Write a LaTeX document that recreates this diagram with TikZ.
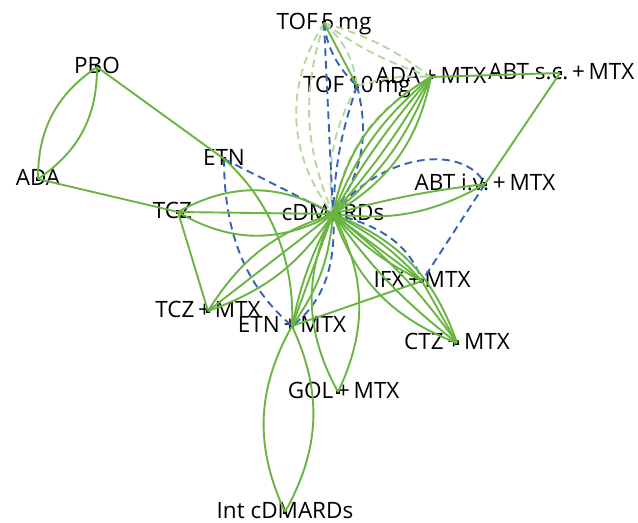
\documentclass[tikz,border=0pt]{standalone}
\usepackage{fontspec}
\setmainfont{Open Sans}
\definecolor{lineGreen}{RGB}{106,180,66}
\definecolor{dashBlue}{RGB}{52,98,180}
\definecolor{lightGreen}{RGB}{182,216,160}
\begin{document}
\begin{tikzpicture}[x=0.025cm,y=-0.025cm,
  gline/.style={draw=lineGreen,line width=1.35pt},
  bdash/.style={draw=dashBlue,line width=1.35pt,dash pattern=on 5.5pt off 3.5pt},
  ldash/.style={draw=lightGreen,line width=1.35pt,dash pattern=on 5.5pt off 3.5pt},
  dotnode/.style={fill=black,inner sep=0pt,minimum size=2.4pt,rectangle},
  lab/.style={anchor=mid,inner sep=0pt,yshift=-2pt,font=\fontsize{16}{19}\selectfont}]
\useasboundingbox (0,0) rectangle (638,523);
% node markers
\node[dotnode] (tof5) at (324,23) {};
\node[dotnode] (tof10) at (357,86) {};
\node[dotnode] (adam) at (431,77) {};
\node[dotnode] (abtsc) at (560,73) {};
\node[dotnode] (pbo) at (97,67) {};
\node[dotnode] (ada) at (38,179) {};
\node[dotnode] (etn) at (224,159) {};
\node[dotnode] (tcz) at (178,212) {};
\node[dotnode] (cd) at (333,214) {};
\node[dotnode] (abtiv) at (485,184) {};
\node[dotnode] (ifx) at (422,281) {};
\node[dotnode] (ctz) at (457,343) {};
\node[dotnode] (tczm) at (208,311) {};
\node[dotnode] (etnm) at (292,326) {};
\node[dotnode] (gol) at (338,392) {};
\node[dotnode] (intc) at (285,512) {};
% labels
\node[lab] (ltof5) at (tof5) {TOF\,5\,mg};
\node[lab] (ltof10) at (tof10) {TOF\,10\,mg};
\node[lab] (ladam) at (adam) {ADA\,+\,MTX};
\node[lab,xshift=1pt] (labtsc) at (abtsc) {ABT s.c.\,+\,MTX};
\node[lab] (lpbo) at (pbo) {PBO};
\node[lab] (lada) at (ada) {ADA};
\node[lab] (letn) at (etn) {ETN};
\node[lab,xshift=-4pt] (ltcz) at (tcz) {TCZ};
\node[lab] (lcd) at (cd) {cDMARDs};
\node[lab] (labtiv) at (abtiv) {ABT i.v.\,+\,MTX};
\node[lab] (lifx) at (ifx) {IFX\,+\,MTX};
\node[lab] (lctz) at (ctz) {CTZ\,+\,MTX};
\node[lab] (ltczm) at (tczm) {TCZ\,+\,MTX};
\node[lab] (letnm) at (etnm) {ETN\,+\,MTX};
\node[lab,xshift=4pt] (lgol) at (gol) {GOL\,+\,MTX};
\node[lab] (lintc) at (intc) {Int cDMARDs};
% light green dashed
\draw[ldash] (tof5.center) to[bend right=35] (cd.center);
\draw[ldash] (tof5.center) to[bend right=20] (cd.center);
\draw[ldash] (tof5.center) to[bend left=20] (tof10.center);
\draw[ldash] (tof5.center) to[bend left=10] (adam.center);
\draw[ldash] (tof5.center) to[bend right=8] (adam.center);
\draw[ldash] (tof10.center) to[bend left=10] (adam.center);
\draw[ldash] (tof10.center) to[bend right=18] (cd.center);
\draw[ldash] (adam.center) to[bend right=25] (cd.center);
% blue dashed
\draw[bdash] (tof5.center) -- (cd.center);
\draw[bdash] (tof5.center) .. controls (327,50) and (340,70) .. (tof10.center);
\draw[bdash] (tof10.center) to[bend right=8] (cd.center);
\draw[bdash] (tof10.center) to[bend left=25] (cd.center);
\draw[bdash] (etn.center) -- (cd.center);
\draw[bdash] (etn.center) .. controls (224,240) and (250,290) .. (etnm.center);
\draw[bdash] (cd.center) .. controls (337,270) and (320,305) .. (etnm.center);
\draw[bdash] (cd.center) .. controls (385,150) and (465,145) .. (abtiv.center);
\draw[bdash] (cd.center) .. controls (380,225) and (410,245) .. (ifx.center);
\draw[bdash] (abtiv.center) -- (ifx.center);
% green solid
\draw[gline] (pbo.center) to[bend left=28] (ada.center);
\draw[gline] (pbo.center) to[bend right=28] (ada.center);
\draw[gline] (pbo.center) -- (etn.center);
\draw[gline] (ada.center) -- (tcz.center);
\draw[gline] (tcz.center) -- (cd.center);
\draw[gline] (tcz.center) to[bend left=30] (cd.center);
\draw[gline] (tcz.center) to[bend right=30] (cd.center);
\draw[gline] (tcz.center) -- (tczm.center);
\draw[gline] (tczm.center) to[bend left=20] (cd.center);
\draw[gline] (tczm.center) -- (cd.center);
\draw[gline] (tczm.center) to[bend right=18] (cd.center);
\draw[gline] (etn.center) .. controls (270,200) and (295,260) .. (etnm.center);
\draw[gline] (etnm.center) to[bend left=8] (cd.center);
\draw[gline] (etnm.center) -- (cd.center);
\draw[gline] (etnm.center) to[bend right=15] (cd.center);
\draw[gline] (etnm.center) to[bend left=27] (intc.center);
\draw[gline] (etnm.center) to[bend right=27] (intc.center);
\draw[gline] (etnm.center) -- (ifx.center);
\draw[gline] (cd.center) to[bend left=27] (gol.center);
\draw[gline] (cd.center) to[bend right=27] (gol.center);
\foreach \b in {24,14,5} {
  \draw[gline] (cd.center) to[bend left=\b] (adam.center);
  \draw[gline] (cd.center) to[bend right=\b] (adam.center);
}
\draw[gline] (adam.center) -- (abtsc.center);
\draw[gline] (abtsc.center) -- (abtiv.center);
\draw[gline] (cd.center) to[bend left=4] (abtiv.center);
\draw[gline] (cd.center) to[bend right=18] (abtiv.center);
\draw[gline] (cd.center) to[bend left=10] (ifx.center);
\draw[gline] (cd.center) -- (ifx.center);
\draw[gline] (cd.center) to[bend right=10] (ifx.center);
\draw[gline] (cd.center) to[bend left=25] (ctz.center);
\draw[gline] (cd.center) to[bend left=8] (ctz.center);
\draw[gline] (cd.center) to[bend right=8] (ctz.center);
\draw[gline] (cd.center) to[bend right=25] (ctz.center);
\draw[gline] (ifx.center) -- (ctz.center);
\draw[gline] (tof5.center) -- (tof10.center);
\end{tikzpicture}
\end{document}
